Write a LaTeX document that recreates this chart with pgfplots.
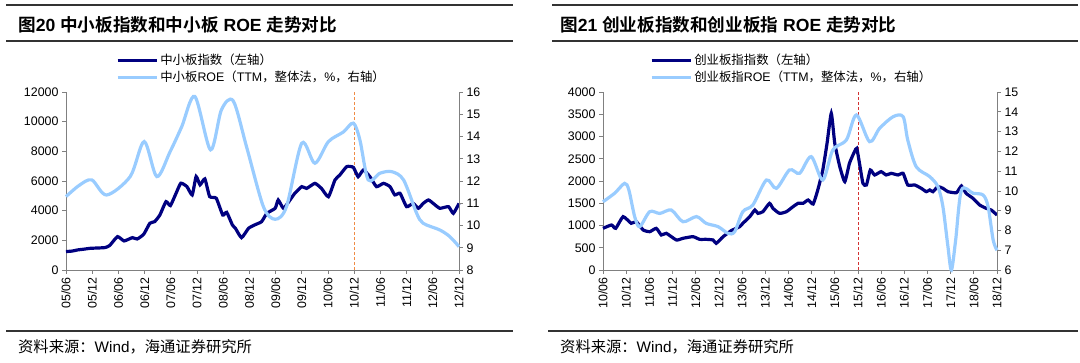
\documentclass[border=0pt]{standalone}
\usepackage{fontspec}
\setmainfont{Liberation Sans}
\newfontfamily\cjk[BoldFont={Noto Sans CJK SC Bold}]{Noto Sans CJK SC}
\usepackage{pgfplots}
\pgfplotsset{compat=1.18}
\definecolor{navy}{RGB}{0,0,128}
\definecolor{lblue}{RGB}{153,204,255}
\definecolor{dorange}{RGB}{240,140,70}
\definecolor{dred}{RGB}{210,50,50}
\definecolor{axgray}{RGB}{128,128,128}
\pgfplotsset{
  base/.style={scale only axis, width=393pt, height=178pt, clip=false,
    scaled y ticks=false,
    axis line style={axgray, line width=0.7pt},
    tick style={axgray, line width=0.7pt},
    major tick length=4pt, tick align=outside,
    tick label style={font=\fontsize{12.4}{14}\selectfont, text=black},
    /pgf/number format/1000 sep={},
    /pgf/number format/assume math mode=true,
  },
  leg/.style={legend style={at={(#1,1.225)}, anchor=north west, draw=none, fill=none,
      font=\fontsize{12.4}{14}\selectfont, cells={anchor=west}, row sep=1pt,
      inner sep=0pt, /tikz/every even column/.append style={column sep=2pt}},
    legend image code/.code={\draw[##1] (0pt,0pt) -- (39pt,0pt);}},
}
\begin{document}
\begin{tikzpicture}[x=1pt,y=1pt]
\useasboundingbox (0,0) rectangle (1080,363);
% rules
\draw[line width=1.3pt, black!80] (6,358) -- (513,358);
\draw[line width=1.3pt, black!80] (6,322) -- (513,322);
\draw[line width=1.3pt, black!80] (6,32) -- (513,32);
\draw[line width=1.3pt, black!80] (552,358) -- (1078,358);
\draw[line width=1.3pt, black!80] (552,322) -- (1078,322);
\draw[line width=1.3pt, black!80] (548,32) -- (1078,32);
% titles
\node[anchor=west, inner sep=0pt, font=\fontsize{17.6}{20}\selectfont] at (18,338)
  {{\cjk\bfseries 图}\textbf{20} {\cjk\bfseries 中小板指数和中小板} \textbf{ROE} {\cjk\bfseries 走势对比}};
\node[anchor=west, inner sep=0pt, font=\fontsize{17.6}{20}\selectfont] at (560,338)
  {{\cjk\bfseries 图}\textbf{21} {\cjk\bfseries 创业板指数和创业板指} \textbf{ROE} {\cjk\bfseries 走势对比}};
% sources
\node[anchor=west, inner sep=0pt, font=\fontsize{15.3}{17}\selectfont] at (18,16)
  {{\cjk 资料来源：}Wind{\cjk ，海通证券研究所}};
\node[anchor=west, inner sep=0pt, font=\fontsize{15.3}{17}\selectfont] at (560,16)
  {{\cjk 资料来源：}Wind{\cjk ，海通证券研究所}};

% ---------------- left panel -----------------
\begin{axis}[base, at={(66pt,93pt)}, anchor=south west,
  axis y line*=left, axis x line*=bottom,
  xmin=0, xmax=90, ymin=0, ymax=12000, ytick={0,2000,...,12000},
  xtick={0,6,...,90},
  xticklabels={05/06,05/12,06/06,06/12,07/06,07/12,08/06,08/12,09/06,09/12,10/06,10/12,11/06,11/12,12/06,12/12},
  xticklabel style={rotate=90, anchor=east}]
\addplot[dorange, densely dashed, line width=0.8pt] coordinates {(66,0) (66,12000)};
\addplot[navy, line width=3.2pt, smooth, tension=0.3] coordinates {
(0,1240)(1.5,1280)(2.6,1350)(4,1400)(5.5,1460)(7,1480)(8.9,1510)(10,1650)(11.8,2250)(13.3,1960)(15.2,2180)(16.3,2090)(17.8,2410)(19.2,3150)(20.3,3260)(21.5,3710)(22.9,4610)(23.9,4340)(25.2,5170)(26.3,5850)(27.7,5620)(28.9,5060)(29.8,6300)(30.7,5740)(31.8,6140)(32.9,4950)(34.4,4840)(35.9,3710)(36.8,3890)(38.1,3040)(38.8,2810)(40.2,2180)(41.8,2810)(43.3,3050)(44.8,3260)(46,3820)(47.9,4160)(48.6,4720)(49.8,4160)(51.3,4720)(52.4,5170)(54,5620)(55.1,5500)(57,5840)(58.5,5500)(60.1,4940)(61.6,6070)(62.7,6400)(64.3,6970)(65.8,6920)(66.9,6290)(68.1,6740)(69.6,6290)(71.1,5620)(72.7,5840)(74.2,5620)(75.3,5060)(76.5,5170)(78,4270)(79.5,4490)(80.7,4160)(81.8,4490)(83,4720)(84.1,4490)(85.6,4160)(87.6,4270)(88.7,3820)(90,4490)};
\end{axis}
\begin{axis}[base, leg=0.127, at={(66pt,93pt)}, anchor=south west,
  axis y line*=right, axis x line=none,
  xmin=0, xmax=90, ymin=8, ymax=16, ytick={8,9,...,16}]
\addlegendimage{navy, line width=3.2pt}
\addlegendentry{{\cjk 中小板指数（左轴）}}
\addplot[lblue, line width=3.2pt, smooth, tension=0.5] coordinates {
(0,11.3)(3,11.8)(5.9,12.05)(9.3,11.37)(14.7,12.2)(17.9,13.77)(20.8,12.2)(23.8,13.3)(26.5,14.44)(29.5,15.8)(33.1,13.4)(35.6,15.2)(38.3,15.6)(41.4,13.5)(45.2,10.85)(47.9,10.28)(50.5,10.85)(54,13.7)(57,12.8)(60.1,13.77)(63.5,14.2)(65.8,14.6)(67.3,13.85)(69.2,12.05)(71.9,12.35)(74.6,12.42)(77.3,12.05)(80.3,10.55)(81.8,10.1)(85.6,9.8)(87.9,9.5)(90,9.05)};
\addlegendentry{{\cjk 中小板}ROE{\cjk （}TTM{\cjk ，整体法，}\%{\cjk ，右轴）}}
\end{axis}

% ---------------- right panel -----------------
\begin{axis}[base, width=394pt, at={(603pt,93pt)}, anchor=south west,
  axis y line*=left, axis x line*=bottom,
  xmin=0, xmax=102, ymin=0, ymax=4000, ytick={0,500,...,4000},
  xtick={0,6,...,102},
  xticklabels={10/06,10/12,11/06,11/12,12/06,12/12,13/06,13/12,14/06,14/12,15/06,15/12,16/06,16/12,17/06,17/12,18/06,18/12},
  xticklabel style={rotate=90, anchor=east}]
\addplot[dred, densely dashed, line width=0.8pt] coordinates {(66,0) (66,4000)};
\addplot[navy, line width=3.2pt, smooth, tension=0.3] coordinates {
(0,936)(2.2,1011)(3.3,936)(5.2,1198)(7.3,1049)(8.6,1086)(10.4,899)(12.1,861)(13.8,936)(15.1,786)(16.4,824)(19,674)(20.7,712)(23.3,749)(25,689)(26.7,689)(28.5,674)(29.3,599)(31.1,749)(33.2,884)(35.4,974)(36.2,1049)(38,1198)(39.3,1348)(40.1,1273)(41.4,1311)(43.1,1498)(44,1386)(45.7,1273)(47.5,1311)(49.2,1423)(50.5,1498)(51.8,1498)(53.1,1573)(54.4,1483)(55.6,1798)(56.9,2247)(58,2846)(59.1,3520)(60,2846)(61.3,2322)(62.6,1985)(63.8,2397)(65.1,2659)(65.7,2734)(66.4,2397)(67.3,1947)(68.2,1910)(69.2,2247)(70.3,2135)(72,2210)(73.3,2135)(74.6,2172)(76.4,2135)(77.7,2172)(78.9,1910)(80.7,1910)(82.4,1835)(83.7,1760)(84.6,1798)(85.4,1760)(86.7,1873)(88,1835)(89.3,1760)(91.5,1738)(92.8,1888)(94,1723)(95.8,1610)(97.5,1461)(99.2,1386)(100.5,1348)(102,1236)};
\end{axis}
\begin{axis}[base, leg=0.119, width=394pt, at={(603pt,93pt)}, anchor=south west,
  axis y line*=right, axis x line=none,
  xmin=0, xmax=102, ymin=6, ymax=15, ytick={6,7,...,15}]
\addlegendimage{navy, line width=3.2pt}
\addlegendentry{{\cjk 创业板指指数（左轴）}}
\addplot[lblue, line width=3.2pt, smooth, tension=0.5] coordinates {
(0,9.45)(3,9.88)(5.6,10.38)(6.7,10.04)(8.2,8.7)(9.5,8.19)(12.1,8.95)(14.7,8.86)(17.7,9.03)(20.7,8.44)(24.2,8.7)(26.7,8.36)(29.8,8.19)(32.4,7.85)(34.1,7.94)(36.2,8.95)(38.8,9.29)(42.3,10.55)(44.9,10.13)(48.3,11.06)(50.9,10.89)(53.9,11.73)(56.9,10.55)(59.5,12.07)(63,12.57)(65.6,13.84)(69,12.49)(71.6,13.16)(75.1,13.75)(77.7,13.75)(78.9,12.57)(81.1,11.22)(84.6,10.72)(86.7,10.21)(88,9.2)(89.3,7.18)(90.2,6.0)(91.3,7.52)(92.8,10.04)(95.8,9.88)(98.4,9.79)(99.7,9.2)(101,7.52)(102,7.0)};
\addlegendentry{{\cjk 创业板指}ROE{\cjk （}TTM{\cjk ，整体法，}\%{\cjk ，右轴）}}
\end{axis}
\end{tikzpicture}
\end{document}
